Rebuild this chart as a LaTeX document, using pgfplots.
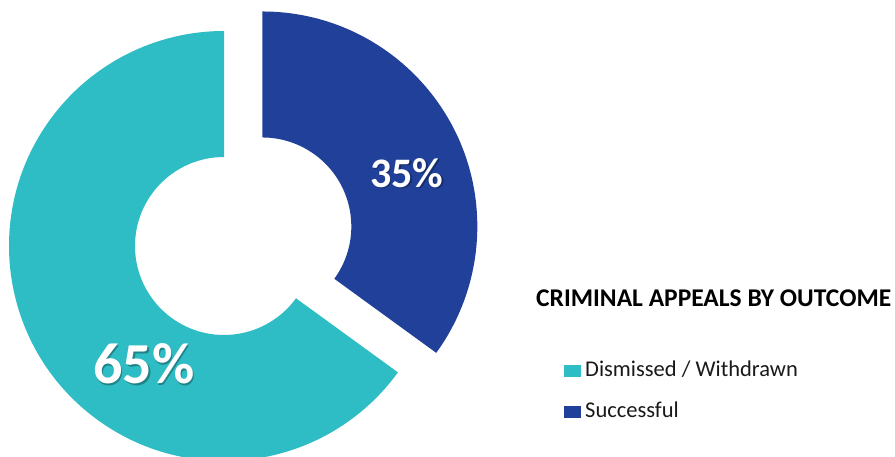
\documentclass[border=0pt]{standalone}
\usepackage{pgfplots}
\pgfplotsset{compat=1.18}
\usepackage{pgfplotstable}
\usetikzlibrary{calc}
\usepackage{fontspec}
\setmainfont{Carlito}
\definecolor{cDis}{RGB}{46,189,196}
\definecolor{cSuc}{RGB}{33,64,154}
\definecolor{txt}{RGB}{25,25,25}
\pgfplotstableread{
name value
Dismissed 65
Successful 35
}\datatable
\begin{document}
\begin{tikzpicture}
\useasboundingbox (0,0) rectangle (895pt,457pt);
\pgfplotstablegetelem{0}{value}\of\datatable \let\vA\pgfplotsretval
\pgfplotstablegetelem{1}{value}\of\datatable \let\vB\pgfplotsretval
% angles (clockwise from 12 o'clock)
\pgfmathsetmacro\aS{90}
\pgfmathsetmacro\aM{90-3.6*\vB}
\pgfmathsetmacro\aE{\aM-3.6*\vA}
\pgfmathsetmacro\bis{90-1.8*\vB}
\pgfmathsetmacro\dx{43*cos(\bis)}
\pgfmathsetmacro\dy{43*sin(\bis)}
\def\cx{224}\def\cy{211}
\def\Ro{215pt}\def\Ri{89pt}
\begin{axis}[
  at={(0,0)}, anchor=south west,
  scale only axis, width=895pt, height=457pt,
  xmin=0, xmax=895, ymin=0, ymax=457,
  hide axis, clip=true,
]
% Dismissed / Withdrawn
\fill[cDis] ($(axis cs:\cx,\cy)+(\aM:\Ro)$) arc[start angle=\aM, end angle=\aE, radius=\Ro]
   -- ($(axis cs:\cx,\cy)+(\aE:\Ri)$) arc[start angle=\aE, end angle=\aM, radius=\Ri] -- cycle;
% Successful (exploded)
\fill[cSuc] ($(axis cs:\cx,\cy)+(\dx pt,\dy pt)+(\aS:\Ro)$) arc[start angle=\aS, end angle=\aM, radius=\Ro]
   -- ($(axis cs:\cx,\cy)+(\dx pt,\dy pt)+(\aM:\Ri)$) arc[start angle=\aM, end angle=\aS, radius=\Ri] -- cycle;
% value labels
\node[text=black, opacity=0.3, font=\fontsize{42}{42}\selectfont\bfseries] at (axis cs:408.5,282.5) {35\%};
\node[text=white, font=\fontsize{42}{42}\selectfont\bfseries] at (axis cs:407,284) {35\%};
\node[text=black, opacity=0.3, font=\fontsize{58}{58}\selectfont\bfseries] at (axis cs:145.5,91.5) {65\%};
\node[text=white, font=\fontsize{58}{58}\selectfont\bfseries] at (axis cs:144,93) {65\%};
% legend
\node[anchor=base west, inner sep=0pt, text=black, font=\fontsize{25.5}{25.5}\selectfont\bfseries] at (axis cs:536,150) {CRIMINAL APPEALS BY OUTCOME};
\fill[cDis] (axis cs:564,80) rectangle (axis cs:580.5,92);
\node[anchor=base west, inner sep=0pt, text=txt, font=\fontsize{22.5}{22.5}\selectfont] at (axis cs:585,80) {Dismissed / Withdrawn};
\fill[cSuc] (axis cs:564,39) rectangle (axis cs:580.5,51);
\node[anchor=base west, inner sep=0pt, text=txt, font=\fontsize{22.5}{22.5}\selectfont] at (axis cs:585,39) {Successful};
\end{axis}
\end{tikzpicture}
\end{document}
